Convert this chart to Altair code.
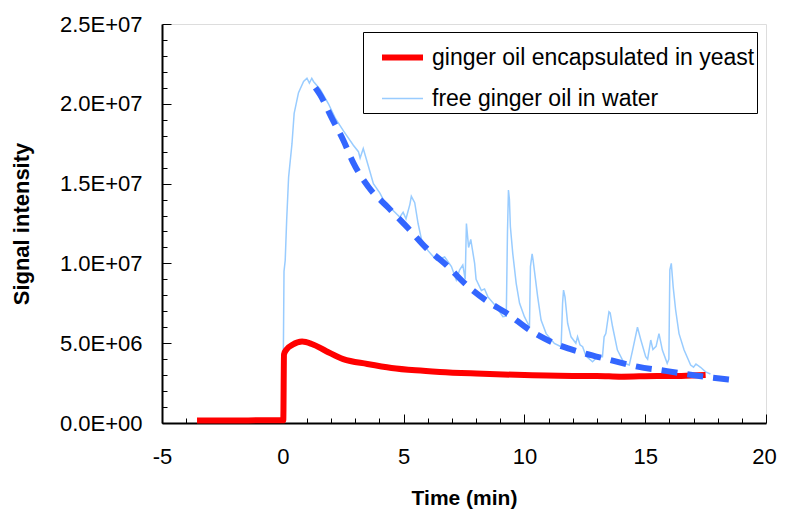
import altair as alt
import pandas as pd

# ---- data ----
SERIES = ["ginger oil encapsulated in yeast", "free ginger oil in water"]

T_FREE = [-2.1, -1.0, -0.02, 0.0, 0.05, 0.1, 0.16, 0.24, 0.38, 0.47, 0.65, 0.86, 1.0, 1.1, 1.2, 1.27,
          1.55, 1.89, 2.17, 2.51, 2.92, 3.13, 3.2, 3.33, 3.54, 3.75, 4.02, 4.23, 4.64, 4.84, 4.98,
          5.1, 5.26, 5.32, 5.46, 5.6, 5.74, 6.01, 6.36, 6.7, 6.98, 7.18, 7.32, 7.45, 7.55, 7.6,
          7.69, 7.78, 7.94, 8.0, 8.22, 8.35, 8.49, 8.83, 9.11, 9.25, 9.3, 9.34, 9.38, 9.42, 9.52,
          9.66, 9.8, 10.0, 10.21, 10.25, 10.32, 10.36, 10.41, 10.55, 10.69, 10.9, 11.24, 11.52,
          11.58, 11.62, 11.68, 11.79, 11.93, 12.13, 12.2, 12.3, 12.41, 12.55, 12.82, 13.03, 13.23,
          13.3, 13.37, 13.5, 13.55, 13.65, 13.85, 14.13, 14.34, 14.47, 14.68, 14.82, 15.02, 15.1,
          15.23, 15.32, 15.45, 15.57, 15.71, 15.91, 15.98, 16.02, 16.08, 16.16, 16.26, 16.4, 16.61,
          16.88, 17.0, 17.1, 17.29, 17.5, 17.7]
V_FREE = [5e4, 6e4, 6e4, 6e4, 9.5e6, 1.02e7, 1.27e7, 1.54e7, 1.75e7, 1.94e7, 2.07e7, 2.14e7, 2.16e7,
          2.13e7, 2.16e7, 2.14e7, 2.09e7, 2.0e7, 1.91e7, 1.83e7, 1.74e7, 1.7e7, 1.66e7, 1.72e7,
          1.61e7, 1.5e7, 1.44e7, 1.38e7, 1.32e7, 1.29e7, 1.32e7, 1.28e7, 1.37e7, 1.42e7, 1.38e7,
          1.25e7, 1.15e7, 1.08e7, 1.02e7, 1.04e7, 9.8e6, 8.96e6, 9.6e6, 9.9e6, 9.0e6, 1.25e7,
          1.1e7, 1.15e7, 1.0e7, 9.0e6, 8.3e6, 8.4e6, 7.9e6, 7.3e6, 6.66e6, 6.7e6, 1.2e7, 1.46e7,
          1.4e7, 1.23e7, 1.06e7, 8.75e6, 7.5e6, 6.66e6, 6.03e6, 9.8e6, 1.06e7, 1.02e7, 9.6e6,
          7.9e6, 6.45e6, 5.6e6, 4.99e6, 4.78e6, 7.5e6, 8.33e6, 7.9e6, 6.25e6, 5.4e6, 5.0e6, 5.4e6,
          4.9e6, 4.78e6, 4.2e6, 3.84e6, 4.15e6, 4.15e6, 5.4e6, 5.6e6, 6.97e6, 6.9e6, 6.03e6,
          4.57e6, 3.74e6, 3.63e6, 4.5e6, 6.0e6, 5.2e6, 4.15e6, 4.0e6, 5.2e6, 4.6e6, 4.8e6, 5.6e6,
          4.57e6, 3.74e6, 4.0e6, 9.6e6, 1.0e7, 8.5e6, 7.08e6, 5.6e6, 4.57e6, 3.63e6, 3.5e6, 3.7e6,
          3.49e6, 3.2e6, 3.07e6]

T_ENC = [-3.55, -2.0, -0.05, 0.02, 0.05, 0.15, 0.4, 0.8, 1.2, 1.8, 2.5, 3.5, 4.5, 5.5, 6.5, 8.0,
         10.0, 12.0, 13.0, 14.0, 15.5, 16.5, 17.5]
V_ENC = [1.5e5, 1.6e5, 1.7e5, 1.7e5, 4.3e6, 4.6e6, 4.9e6, 5.1e6, 4.95e6, 4.5e6, 4.0e6, 3.7e6, 3.45e6,
         3.3e6, 3.2e6, 3.1e6, 3.0e6, 2.95e6, 2.95e6, 2.9e6, 2.95e6, 2.95e6, 3.0e6]

T_FIT = [1.35, 1.55, 2.03, 2.51, 2.92, 3.54, 4.36, 5.19, 5.95, 6.77, 7.6, 8.49, 9.3, 10.21, 11.24,
         12.41, 13.55, 14.68, 15.91, 17.08, 18.5]
V_FIT = [2.1e7, 2.055e7, 1.91e7, 1.77e7, 1.63e7, 1.48e7, 1.35e7, 1.22e7, 1.095e7, 9.9e6, 8.65e6,
         7.6e6, 6.85e6, 5.83e6, 4.99e6, 4.4e6, 3.95e6, 3.53e6, 3.25e6, 2.98e6, 2.72e6]

X_TICKS = list(range(-5, 21))
Y_TICKS = [i * 1000000 for i in range(0, 26)]
Y_TICK_LABELS = ["0.0E+00", "5.0E+06", "1.0E+07", "1.5E+07", "2.0E+07", "2.5E+07"]

COLORS = ["#FF0000", "#99CCFF"]
FIT_COLOR = "#3366FF"

df_free = pd.DataFrame({"t": T_FREE, "v": V_FREE, "series": SERIES[1]})
df_enc = pd.DataFrame({"t": T_ENC, "v": V_ENC, "series": SERIES[0]})
df_fit = pd.DataFrame({"t": T_FIT, "v": V_FIT})

FONT = "Liberation Sans"
W, H = 604, 399

ylab_list = "[" + ",".join("'%s'" % s for s in Y_TICK_LABELS) + "]"


def x_axis():
    # x grid lines run from the top of the plot down to the axis, so the dash
    # pattern starts with a gap and ends with the tick length at the axis.
    return alt.Axis(
        values=X_TICKS, title="Time (min)", ticks=False, tickSize=0, domain=True,
        domainColor="black", domainWidth=2, grid=True, gridColor="black", gridWidth=1,
        gridOpacity=1,
        gridDash={"condition": {"test": "datum.value % 5 === 0", "value": [0, H - 9, 9, 3000]},
                  "value": [0, H - 5, 5, 3000]},
        labelExpr="datum.value % 5 === 0 ? ((datum.value < 0 ? '-' : '') + abs(datum.value)) : ''",
        labelOffset={"condition": {"test": "datum.value === 20", "value": -2}, "value": 0},
        labelFlush=False, labelOverlap=False, labelPadding=23, labelFont=FONT, labelFontSize=22,
        labelColor="black", titleFont=FONT, titleFontSize=21, titleFontWeight="bold",
        titleColor="black", titlePadding=20,
    )


def y_axis():
    return alt.Axis(
        values=Y_TICKS, title="Signal intensity", ticks=False, tickSize=0, domain=True,
        domainColor="black", domainWidth=2, grid=True, gridColor="black", gridWidth=1,
        gridOpacity=1,
        gridDash={"condition": {"test": "datum.value % 5000000 === 0", "value": [9, 3000]},
                  "value": [5, 3000]},
        labelExpr="datum.value % 5000000 === 0 ? " + ylab_list + "[round(datum.value / 5000000)] : ''",
        labelFlush=False, labelOverlap=False, labelPadding=20, labelFont=FONT, labelFontSize=22,
        labelColor="black", titleFont=FONT, titleFontSize=22, titleFontWeight="bold",
        titleColor="black", titlePadding=26,
    )


def legend():
    return alt.Legend(
        title=None, orient="none", legendX=201, legendY=8, padding=2, symbolOffset=14,
        symbolType="stroke", symbolSize=1681, labelFont=FONT, labelFontSize=23,
        labelColor="black", labelOffset=6, rowPadding=7, strokeColor="black",
        fillColor="white", labelLimit=600,
    )


xs = alt.Scale(domain=[-5, 20], nice=False, zero=False)
ys = alt.Scale(domain=[0, 25000000], nice=False)
cs = alt.Scale(domain=SERIES, range=COLORS)
ws = alt.Scale(domain=SERIES, range=[6, 1.5])


def xy():
    return dict(
        x=alt.X("t:Q", scale=xs, axis=x_axis()),
        y=alt.Y("v:Q", scale=ys, axis=y_axis()),
    )


free = alt.Chart(df_free).mark_line(interpolate="linear").encode(
    color=alt.Color("series:N", scale=cs, legend=legend()),
    strokeWidth=alt.StrokeWidth("series:N", scale=ws, legend=legend()),
    **xy(),
)
enc = alt.Chart(df_enc).mark_line(interpolate="monotone").encode(
    color=alt.Color("series:N", scale=cs, legend=legend()),
    strokeWidth=alt.StrokeWidth("series:N", scale=ws, legend=legend()),
    **xy(),
)
fit = alt.Chart(df_fit).mark_line(
    interpolate="monotone", color=FIT_COLOR, strokeWidth=6, strokeDash=[16, 10], strokeCap="butt"
).encode(**xy())

chart = alt.layer(free, enc, fit).properties(
    width=W, height=H,
    autosize=alt.AutoSizeParams(type="none"),
    padding={"left": 154, "top": 16, "right": 11, "bottom": 87},
).configure_view(
    stroke="black", strokeWidth=2
).configure(background="white")

chart.save("out.html", embed_options={"renderer": "svg", "actions": False})
